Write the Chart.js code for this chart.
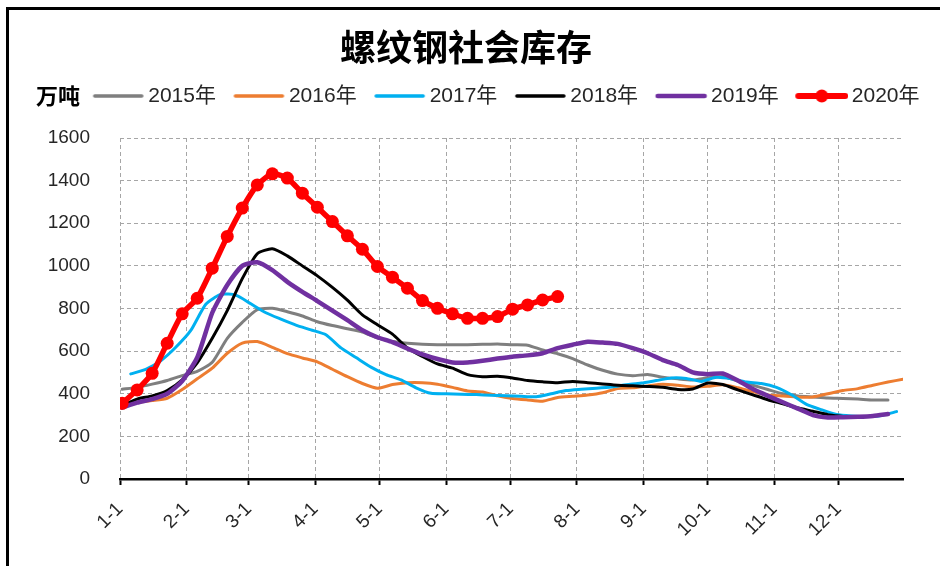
<!DOCTYPE html>
<html>
<head>
<meta charset="utf-8">
<script src="https://cdn.jsdelivr.net/npm/chart.js@4/dist/chart.umd.min.js"></script>
<style>
html,body{margin:0;padding:0;background:#fff;}
#wrap{position:relative;width:942px;height:566px;overflow:hidden;background:#fff;}
#frame{position:absolute;left:6px;top:7px;width:931px;height:600px;border-left:3px solid #000;border-top:3px solid #000;}
#c{position:absolute;left:0;top:0;}
</style>
</head>
<body>
<div id="wrap"><div id="frame"></div><canvas id="c" width="942" height="566"></canvas></div>
<script>
// ---- data (weekly readings, 万吨) ----
const chartTitle = '螺纹钢社会库存';
const unitLabel = '万吨';
const monthStartDays = [0, 31, 60, 91, 121, 152, 182, 213, 244, 274, 305, 335];
const monthLabels = ['1-1', '2-1', '3-1', '4-1', '5-1', '6-1', '7-1', '8-1', '9-1', '10-1', '11-1', '12-1'];
const yTickValues = [0, 200, 400, 600, 800, 1000, 1200, 1400, 1600];
const seriesNames = ['2015年', '2016年', '2017年', '2018年', '2019年', '2020年'];
const firstReportDay = [1, 1, 5, 1, 1, 1];

const v2015 = [421,430,445,462,485,505,548,660,735,795,801,785,765,738,720,705,690,662,645,637,632,630,630,630,632,634,630,628,605,588,565,535,510,492,485,490,478,470,465,475,480,460,440,420,400,390,385,380,378,375,371,371];
const v2016 = [355,360,368,379,420,470,520,590,638,645,618,588,568,550,515,480,448,426,443,452,452,445,430,413,408,390,378,371,365,382,388,394,405,425,428,437,445,440,432,435,442,428,410,394,389,384,385,400,415,424,440,455,468];
const v2017 = [493,514,555,618,697,820,866,863,822,780,750,722,700,677,615,570,525,490,465,428,402,400,398,396,393,391,388,386,400,415,421,426,432,442,450,462,474,472,458,477,470,455,448,430,395,350,325,303,296,293,298,316];
const v2018 = [345,375,390,415,465,545,660,790,940,1057,1080,1047,1000,953,899,839,770,724,680,615,575,540,520,490,480,482,474,462,456,452,458,452,446,440,437,434,430,420,422,450,443,418,395,372,353,333,318,302,293];
const v2019 = [335,358,375,400,460,570,780,910,1000,1017,980,925,878,835,790,745,698,665,642,612,585,563,547,547,555,565,574,580,590,614,630,644,640,634,614,590,558,535,500,492,495,462,422,390,360,330,300,289,290,292,296,305];
const v2020 = [355,418,496,637,775,848,989,1138,1271,1380,1432,1412,1341,1275,1208,1141,1078,997,947,895,837,801,775,754,754,762,797,817,840,856];

const seriesValues = [v2015, v2016, v2017, v2018, v2019, v2020];
const seriesColors = ['#7f7f7f', '#ed7d31', '#00b0f0', '#000000', '#7030a0', '#ff0000'];
const seriesWidths = [3, 3, 3, 3, 4.5, 5.5];
const seriesOrder = [5, 4, 3, 2, 1, 0];

// ---- build ----
function toPoints(values, startDay) {
  return values.map((v, i) => ({ x: startDay + 7 * i, y: v }));
}

function legendIcon(color, width, withDot) {
  const cv = document.createElement('canvas');
  cv.width = 64; cv.height = 16;
  const g = cv.getContext('2d');
  g.strokeStyle = color; g.lineWidth = width; g.lineCap = 'round';
  g.beginPath(); g.moveTo(14, 8); g.lineTo(61, 8); g.stroke();
  if (withDot) { g.fillStyle = color; g.beginPath(); g.arc(37.5, 8, 6.5, 0, Math.PI * 2); g.fill(); }
  return cv;
}
const legendIcons = seriesColors.map((c, k) => legendIcon(c, k === 5 ? 6 : (k === 4 ? 4.5 : 3.5), k === 5));

const datasets = seriesNames.map((name, k) => ({
  label: name,
  data: toPoints(seriesValues[k], firstReportDay[k]),
  borderColor: seriesColors[k],
  backgroundColor: seriesColors[k],
  borderWidth: seriesWidths[k],
  pointRadius: k === 5 ? 6.5 : 0,
  pointHoverRadius: k === 5 ? 6.5 : 0,
  pointBackgroundColor: seriesColors[k],
  pointBorderWidth: 0,
  tension: 0.2,
  fill: false,
  order: seriesOrder[k],
  borderJoinStyle: 'round',
  borderCapStyle: 'round'
}));

const spacerPlugin = {
  id: 'legendSpacer',
  beforeInit(chart) {
    const box = {
      position: 'top', weight: 1, fullSize: true, options: {},
      left: 0, top: 0, right: 0, bottom: 0, width: 0, height: 0,
      isHorizontal() { return true; },
      update(maxWidth) { this.width = maxWidth; this.height = 21.5; },
      draw() {}
    };
    Chart.layouts.addBox(chart, box);
  }
};

const unitPlugin = {
  id: 'unitLabel',
  afterDraw(chart) {
    const ctx = chart.ctx;
    ctx.save();
    ctx.font = 'bold 22px "Noto Sans CJK SC"';
    ctx.fillStyle = '#000';
    ctx.textAlign = 'left';
    ctx.textBaseline = 'middle';
    ctx.fillText(unitLabel, 36, 96);
    ctx.restore();
  }
};

Chart.defaults.font.family = '"Liberation Sans", "Noto Sans CJK SC", sans-serif';

new Chart(document.getElementById('c'), {
  type: 'line',
  data: { datasets },
  plugins: [spacerPlugin, unitPlugin],
  options: {
    responsive: false,
    animation: false,
    events: [],
    layout: { padding: { left: 0, right: 10, top: 0, bottom: 0 } },
    plugins: {
      tooltip: { enabled: false },
      title: {
        display: true,
        text: chartTitle,
        color: '#000',
        font: { size: 36, weight: 'bold', family: '"Noto Sans CJK SC"', lineHeight: 1 },
        padding: { top: 29, bottom: 8 }
      },
      legend: {
        display: true,
        position: 'top',
        align: 'end',
        labels: {
          usePointStyle: true,
          pointStyleWidth: 50,
          padding: 12.5,
          color: '#262626',
          font: { size: 21 },
          sort: (a, b) => a.datasetIndex - b.datasetIndex,
          generateLabels(chart) {
            const items = Chart.defaults.plugins.legend.labels.generateLabels(chart);
            items.forEach(it => { it.pointStyle = legendIcons[it.datasetIndex]; });
            return items;
          }
        }
      }
    },
    scales: {
      x: {
        type: 'linear',
        min: 0,
        max: 365,
        afterBuildTicks(axis) { axis.ticks = monthStartDays.map(v => ({ value: v })); },
        afterFit(axis) { axis.height = 87; },
        ticks: {
          autoSkip: false,
          minRotation: 45,
          maxRotation: 45,
          padding: 13,
          color: '#262626',
          font: { size: 19 },
          callback(value) { const i = monthStartDays.indexOf(value); return i >= 0 ? monthLabels[i] : ''; }
        },
        grid: { color: '#a6a6a6', lineWidth: 1, drawTicks: true, tickLength: 6, tickColor: '#000', tickWidth: 2 },
        border: { display: true, color: '#000', width: 2.5, dash: [4, 3] }
      },
      y: {
        min: 0,
        max: 1600,
        afterBuildTicks(axis) { axis.ticks = yTickValues.map(v => ({ value: v })); },
        afterFit(axis) { axis.width = 120; },
        ticks: { padding: 30, color: '#262626', font: { size: 19 }, callback: (v) => String(v) },
        grid: { color: '#a6a6a6', lineWidth: 1, drawTicks: false },
        border: { display: false, dash: [4, 3] }
      },
      yRight: {
        position: 'right',
        display: true,
        afterFit(axis) { axis.width = 29; },
        ticks: { display: false },
        grid: { display: false, drawTicks: false },
        border: { display: false }
      }
    }
  }
});
</script>
</body>
</html>
